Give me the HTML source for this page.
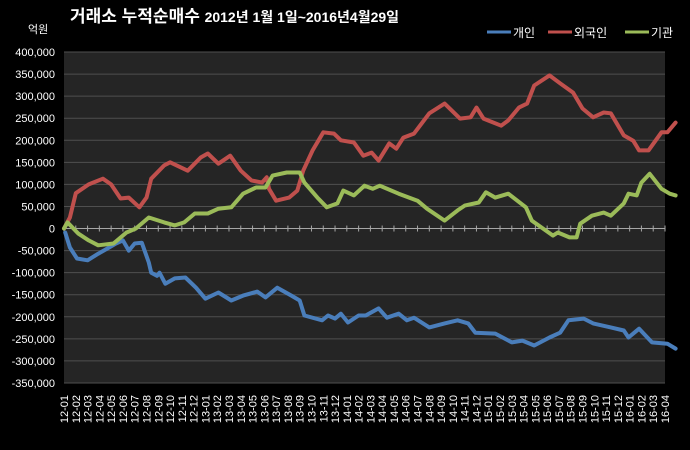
<!DOCTYPE html>
<html><head><meta charset="utf-8"><style>
html,body{margin:0;padding:0;background:#000;}
svg{display:block;font-family:"Liberation Sans","Noto Sans CJK KR",sans-serif;}
</style></head><body>
<svg id="chart" width="690" height="450" viewBox="0 0 690 450">
<rect width="690" height="450" fill="#000"/>
<text x="70" y="22" fill="#fff" font-size="17" font-weight="bold">거래소 누적순매수 <tspan font-size="14">2012년 1월 1일~2016년4월29일</tspan></text>
<text x="28" y="33" fill="#fff" font-size="11">억원</text>
<g id="legend"></g>
<rect x="64" y="52" width="601" height="331" fill="#252525"/>
<g id="grid"></g><g id="yticks"></g><g id="xticks"></g><g id="series"></g>
</svg>
<script>
const months=["12-01","12-02","12-03","12-04","12-05","12-06","12-07","12-08","12-09","12-10","12-11","12-12","13-01","13-02","13-03","13-04","13-05","13-06","13-07","13-08","13-09","13-10","13-11","13-12","14-01","14-02","14-03","14-04","14-05","14-06","14-07","14-08","14-09","14-10","14-11","14-12","15-01","15-02","15-03","15-04","15-05","15-06","15-07","15-08","15-09","15-10","15-11","15-12","16-01","16-02","16-03","16-04"];
const yTicks=[400000,350000,300000,250000,200000,150000,100000,50000,0,-50000,-100000,-150000,-200000,-250000,-300000,-350000];
const seriesNames=["개인","외국인","기관"];
// time in months since 2012-01, values in thousand 억원
const indT=[0.1,0.5,1.1,2.0,2.9,3.7,4.4,5.0,5.5,6.0,6.6,7.2,7.4,7.9,8.1,8.6,9.4,10.3,11.2,12.0,13.1,14.2,15.2,16.4,17.1,18.1,19.3,20.0,20.4,21.9,22.4,23.0,23.5,24.1,25.0,25.6,26.7,27.4,28.4,29.1,29.7,31.0,32.3,33.4,34.3,34.9,36.6,38.0,38.9,39.9,41.2,42.1,42.8,44.1,44.9,46.4,47.5,47.9,48.8,49.9,51.2,51.9];
const indV=[-9,-43,-68,-72,-57,-45,-34,-27,-50,-34,-32,-77,-100,-107,-100,-125,-113,-111,-134,-159,-145,-163,-152,-143,-156,-134,-152,-163,-197,-208,-197,-204,-193,-213,-197,-197,-181,-202,-193,-208,-202,-224,-215,-208,-215,-236,-238,-258,-254,-265,-247,-236,-208,-204,-215,-224,-231,-247,-227,-258,-261,-272];
const forT=[0,0.5,1.0,2.1,3.3,4.0,4.8,5.5,6.4,7.0,7.4,8.5,9.0,10.5,11.6,12.2,13.1,14.1,15.0,15.9,16.8,17.2,17.4,18.0,19.1,19.8,20.3,21.1,22.0,22.9,23.5,24.6,25.4,26.1,26.7,27.6,28.2,28.8,29.7,31.0,32.3,33.6,34.5,35.0,35.6,37.1,37.7,38.6,39.3,39.9,41.2,42.1,43.2,44.0,44.9,45.8,46.4,47.5,48.3,48.8,49.6,50.7,51.2,51.9];
const forV=[0,25,80,100,113,100,68,70,48,70,113,143,150,131,161,170,147,165,131,109,104,116,90,63,70,86,131,177,218,215,200,195,165,172,154,193,181,206,215,261,283,249,252,274,249,233,245,274,283,324,347,329,308,272,252,263,261,211,199,177,177,218,218,240];
const instT=[0,0.3,1.2,2.1,2.9,4.2,5.3,6.1,7.2,8.5,9.4,10.2,11.1,12.2,13.1,14.2,15.2,16.3,17.1,17.7,18.9,20.0,20.4,21.5,22.3,23.2,23.7,24.6,25.5,26.2,26.8,28.4,30.0,30.8,32.3,33.4,34.0,35.2,35.8,36.6,37.7,39.2,39.7,41.5,41.9,42.9,43.5,43.8,44.8,45.8,46.4,47.5,47.9,48.6,49.0,49.7,50.7,51.4,51.9];
const instV=[0,14,-11,-27,-38,-34,-9,0,25,14,7,14,34,34,45,48,79,93,93,120,127,127,104,70,48,57,86,75,97,90,97,79,63,45,18,41,52,59,82,70,79,48,18,-16,-9,-20,-20,11,29,36,29,57,79,75,104,124,90,79,75];
const colors=["#4a7ebb","#c0504d","#9bbb59"];
const NS="http://www.w3.org/2000/svg";
const L=64,R=665,T=52,B=383,yMax=400000,yMin=-350000;
function xS(m){return L+m*(R-L)/(months.length-1);}
function yS(v){return T+(yMax-v)/(yMax-yMin)*(B-T);}
function mk(tag,attrs,parent){const e=document.createElementNS(NS,tag);for(const k in attrs)e.setAttribute(k,attrs[k]);parent.appendChild(e);return e;}
const grid=document.getElementById('grid'),yt=document.getElementById('yticks'),xt=document.getElementById('xticks'),sg=document.getElementById('series'),lg=document.getElementById('legend');
yTicks.forEach(v=>{
  if(v!==0){const g=mk('line',{x1:L,x2:R,y1:yS(v),y2:yS(v),stroke:'#4f4f4f','stroke-width':1},grid);
  
  }
  const t=mk('text',{x:55,y:yS(v)+4,fill:'#fff','font-size':11,'text-anchor':'end'},yt);
  t.textContent=v.toLocaleString('en-US');
  
  
});
const ax=mk('line',{x1:L,x2:R,y1:yS(0),y2:yS(0),stroke:'#a6a6a6','stroke-width':1},xt);


months.forEach((m,i)=>{
  const tk=mk('line',{x1:xS(i),x2:xS(i),y1:yS(0)-3,y2:yS(0)+3,stroke:'#a6a6a6','stroke-width':1},xt);
  
  
  const x=xS(i)+4,y=395;
  const t=mk('text',{x:x,y:y,fill:'#fff','font-size':11,'text-anchor':'end',transform:'rotate(-90 '+x+' '+y+')'},xt);
  t.textContent=m;
  
  
});
const data=[[indT,indV],[forT,forV],[instT,instV]];
const snames=['series-individual','series-foreign','series-institution'];
data.forEach((d,s)=>{
  const pts=d[0].map((t,i)=>xS(t).toFixed(1)+','+yS(d[1][i]*1000).toFixed(1)).join(' ');
  const p=mk('polyline',{points:pts,fill:'none',stroke:colors[s],'stroke-width':4,'stroke-linejoin':'round','stroke-linecap':'round'},sg);
  
  
});
const lx=[487,548,625];
seriesNames.forEach((n,s)=>{
  const l=mk('line',{x1:lx[s],x2:lx[s]+24,y1:32,y2:32,stroke:colors[s],'stroke-width':3},lg);
  
  
  const t=mk('text',{x:lx[s]+26,y:37,fill:'#fff','font-size':12},lg);
  t.textContent=n;
  
  
});
</script>
</body></html>
